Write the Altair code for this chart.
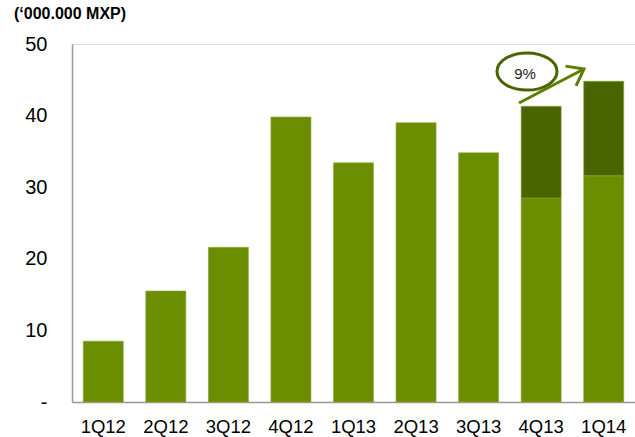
import altair as alt
import pandas as pd

quarters = ["1Q12", "2Q12", "3Q12", "4Q12", "1Q13", "2Q13", "3Q13", "4Q13", "1Q14"]
base_values = [8.5, 15.5, 21.6, 39.8, 33.4, 39.0, 34.8, 28.5, 31.6]
top_values = [0, 0, 0, 0, 0, 0, 0, 12.8, 13.2]
y_ticks = [0, 10, 20, 30, 40, 50]

rows = []
for q, b, t in zip(quarters, base_values, top_values):
    rows.append({"q": q, "seg": "base", "ord": 0, "v": b})
    if t > 0:
        rows.append({"q": q, "seg": "top", "ord": 1, "v": t})
df = pd.DataFrame(rows)

FONT = "Liberation Sans"

bars = alt.Chart(df).mark_bar(stroke="#8aa83a", strokeWidth=0.6).encode(
    x=alt.X("q:N", sort=quarters,
            scale=alt.Scale(paddingInner=0.36, paddingOuter=0.18),
            axis=alt.Axis(title=None, labelAngle=0, labelFontSize=18.5, labelFont=FONT,
                          labelColor="#000000", ticks=False, labelPadding=15,
                          domainColor="#999999", domainWidth=1.5)),
    y=alt.Y("v:Q", stack="zero",
            scale=alt.Scale(domain=[0, 50], nice=False),
            axis=alt.Axis(title=None, values=y_ticks, grid=False, ticks=False,
                          labelFontSize=20, labelFont=FONT, labelColor="#000000",
                          labelPadding=25, domainColor="#999999", domainWidth=1.5,
                          labelExpr="datum.value == 0 ? '-' : datum.label")),
    color=alt.Color("seg:N", scale=alt.Scale(domain=["base", "top"],
                                             range=["#6B8E00", "#4A6400"]), legend=None),
    order=alt.Order("ord:Q"),
)

unit_title = alt.Chart(pd.DataFrame({"t": ["(‘000.000 MXP)"]})).mark_text(
    font=FONT, fontSize=16, fontWeight="bold", align="left", baseline="middle", color="#000000"
).encode(text="t:N", x=alt.value(-58), y=alt.value(-30))

ellipse = alt.Chart(pd.DataFrame({"a": [1]})).mark_point(
    shape="M -1 0 A 1 0.62 0 1 1 1 0 A 1 0.62 0 1 1 -1 0 Z",
    filled=False, stroke="#4A6400", strokeWidth=3, opacity=1
).encode(x=alt.value(455), y=alt.value(27.5), size=alt.value(3600))

pct = alt.Chart(pd.DataFrame({"t": ["9%"]})).mark_text(
    font=FONT, fontSize=15, color="#222222", align="center", baseline="middle"
).encode(text="t:N", x=alt.value(453), y=alt.value(30))

arrow_line = alt.Chart(pd.DataFrame({"a": [1]})).mark_rule(
    stroke="#5A7E00", strokeWidth=3
).encode(x=alt.value(447), x2=alt.value(510), y=alt.value(59), y2=alt.value(26))

arrow_head = alt.Chart(pd.DataFrame({"a": [1]})).mark_point(
    shape="M -1 -0.75 L 0 0 L -1 0.75",
    filled=False, stroke="#5A7E00", strokeWidth=3, opacity=1, angle=332
).encode(x=alt.value(512), y=alt.value(25), size=alt.value(900))

chart = alt.layer(bars, unit_title, ellipse, pct, arrow_line, arrow_head).properties(
    width=563, height=358,
    autosize=alt.AutoSizeParams(type="none"),
    padding={"left": 72, "top": 44, "right": 0, "bottom": 35},
).configure_view(stroke=None).configure(background="#ffffff")

chart.save("out.html", embed_options={"renderer": "svg", "actions": False})
